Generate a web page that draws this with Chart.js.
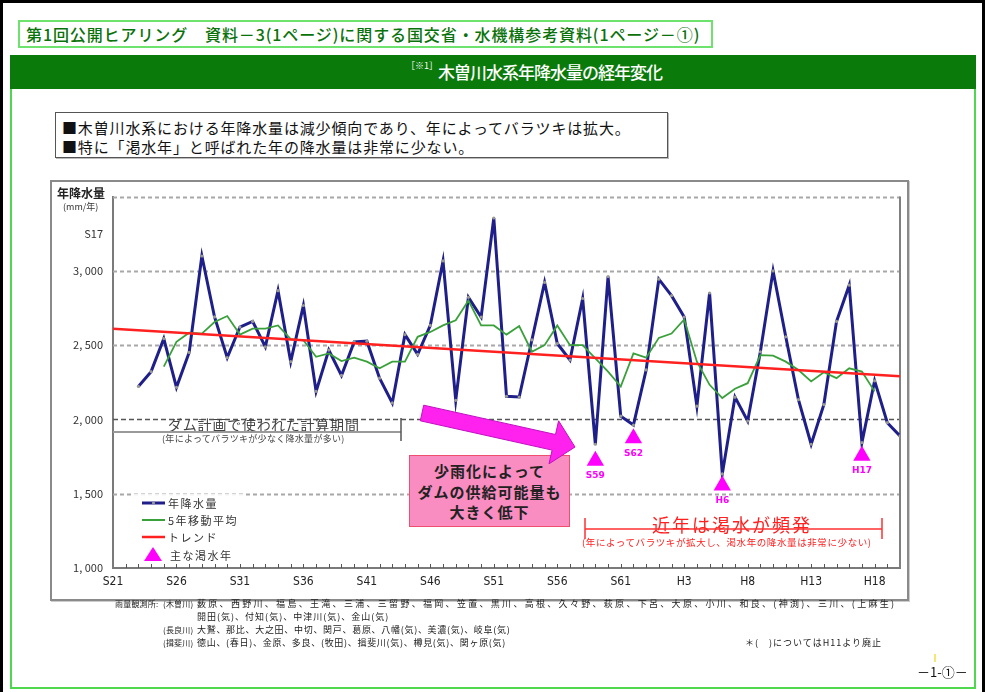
<!DOCTYPE html>
<html><head><meta charset="utf-8">
<script src="https://cdn.jsdelivr.net/npm/chart.js@4.4.1/dist/chart.umd.min.js"></script>
<style>
body{margin:0;background:#fff;}
#page{position:relative;width:985px;height:692px;overflow:hidden;background:#fff;font-family:"Noto Sans CJK JP","Noto Sans",sans-serif;}
.abs{position:absolute;white-space:nowrap;}
.note{font-size:9px;line-height:12px;color:#222;letter-spacing:2px;}
.lbl{font-size:8px;line-height:12px;color:#222;letter-spacing:0.2px;}
.leg{font-size:11px;line-height:14px;color:#333;letter-spacing:1.5px;}
</style></head><body><div id="page">

<div class="abs" style="left:0;top:0;width:985px;height:692px;border-top:3px solid #000;border-left:3px solid #000;border-right:3px solid #000;box-sizing:border-box"></div>
<div class="abs" style="left:18px;top:20px;width:695px;height:28px;border:2px solid #6de36d;box-sizing:border-box;color:#0a720a;font-size:16px;line-height:24px;padding-left:6px;letter-spacing:0.9px;font-weight:500">第1回公開ヒアリング　資料－3(1ページ)に関する国交省・水機構参考資料(1ページ－①)</div>
<div class="abs" style="left:10px;top:55px;width:966px;height:634px;border:2px solid #4fd84f;box-sizing:border-box"></div>
<div class="abs" style="left:10px;top:55px;width:966px;height:34px;background:#0a7a0a;"></div>
<div class="abs" style="left:406px;top:57px;color:#fff;"><span style="font-size:9px;vertical-align:top;position:relative;top:2px">［※1］</span><span style="font-size:17px;line-height:30px;letter-spacing:-1px;font-weight:500">木曽川水系年降水量の経年変化</span></div>

<div class="abs" style="left:55px;top:112px;width:613px;height:46px;border:1.5px solid #555;box-sizing:border-box;box-shadow:1px 1px 0 #bbb"></div>
<div class="abs" style="left:62px;top:118px;font-size:15px;line-height:19px;color:#111;letter-spacing:0.85px">■木曽川水系における年降水量は減少傾向であり、年によってバラツキは拡大。<br>■特に「渇水年」と呼ばれた年の降水量は非常に少ない。</div>

<div class="abs" style="left:50px;top:180px;width:859px;height:421px;border:2px solid #8a8a8a;box-sizing:border-box;box-shadow:1px 1px 0 #ccc"></div>
<canvas id="c" width="860" height="420" style="position:absolute;left:50px;top:180px"></canvas>

<div class="abs" style="left:57px;top:186px;font-size:12px;line-height:14px;font-weight:bold;color:#222">年降水量</div>
<div class="abs" style="left:63px;top:201px;font-size:9px;line-height:12px;color:#333">(mm/年)</div>

<div class="abs" style="left:133px;top:494px;width:112px;height:70px;background:rgba(255,255,255,0.85)"></div>
<div class="abs leg" style="left:168px;top:496px">年降水量</div>
<div class="abs leg" style="left:168px;top:513px">5年移動平均</div>
<div class="abs leg" style="left:168px;top:530px">トレンド</div>
<div class="abs leg" style="left:170px;top:548px">主な渇水年</div>

<div class="abs" style="left:168px;top:415px;font-size:14px;line-height:18px;color:#444;letter-spacing:0.8px">ダム計画で使われた計算期間</div>
<div class="abs" style="left:162px;top:433px;font-size:9px;line-height:11px;color:#444;letter-spacing:0.3px">(年によってバラツキが少なく降水量が多い)</div>

<div class="abs" style="left:409px;top:455px;width:161px;height:72px;background:#f98cc0;border:1.5px solid #ee4f6f;box-sizing:border-box"></div>
<div class="abs" style="left:409px;top:461px;width:161px;text-align:center;font-size:15px;line-height:20.5px;font-weight:bold;color:#222;letter-spacing:1px">少雨化によって<br>ダムの供給可能量も<br>大きく低下</div>

<div class="abs" style="left:652px;top:513px;font-size:18px;line-height:22px;color:#ff2020;letter-spacing:2px">近年は渇水が頻発</div>
<div class="abs" style="left:582px;top:536px;font-size:9.5px;line-height:12px;color:#ff2020;letter-spacing:0.6px">(年によってバラツキが拡大し、渇水年の降水量は非常に少ない)</div>

<svg class="abs" width="985" height="692" style="left:0;top:0;pointer-events:none">
  <line x1="113" y1="432" x2="401" y2="432" stroke="#9a9a9a" stroke-width="2"/>
  <line x1="401" y1="418" x2="401" y2="441" stroke="#555" stroke-width="1.5"/>
  <polygon points="423.7,405.2 555.5,434.5 558.6,420.8 575,447 549,463.8 552.1,450.1 420.3,420.8" fill="#ff22ee" stroke="#c010c0" stroke-width="1"/>
  <line x1="585" y1="529" x2="882" y2="529" stroke="#ff3030" stroke-width="1.5"/>
  <line x1="585" y1="518" x2="585" y2="539" stroke="#ff3030" stroke-width="1.5"/>
  <line x1="882" y1="518" x2="882" y2="539" stroke="#ff3030" stroke-width="1.5"/>
  <line x1="142" y1="503" x2="165" y2="503" stroke="#1f1f8a" stroke-width="3"/>
  <circle cx="153.5" cy="503" r="1.6" fill="#999"/>
  <line x1="142" y1="520" x2="165" y2="520" stroke="#3aa03a" stroke-width="2"/>
  <line x1="142" y1="537" x2="165" y2="537" stroke="#ff2020" stroke-width="2.5"/>
  <polygon points="153,547 162,561 144,561" fill="#ff00ff"/>
  <line x1="935" y1="654" x2="935" y2="662" stroke="#f0e040" stroke-width="1.5"/>
</svg>

<div class="abs lbl" style="left:115px;top:598px">雨量観測所:</div>
<div class="abs lbl" style="left:163px;top:598px">(木曽川)</div>
<div class="abs note" style="left:197px;top:598px;letter-spacing:2.3px">薮原、西野川、福島、王滝、三浦、三留野、福岡、笠置、黒川、高根、久々野、萩原、下呂、大原、小川、和良、(神渕)、三川、(上麻生)</div>
<div class="abs note" style="left:197px;top:611px;letter-spacing:1px">開田(気)、付知(気)、中津川(気)、金山(気)</div>
<div class="abs lbl" style="left:163px;top:624px">(長良川)</div>
<div class="abs note" style="left:197px;top:624px;letter-spacing:0.7px">大鷲、那比、大之田、中切、関戸、葛原、八幡(気)、美濃(気)、岐阜(気)</div>
<div class="abs lbl" style="left:163px;top:637px">(揖斐川)</div>
<div class="abs note" style="left:197px;top:637px;letter-spacing:0.7px">徳山、(春日)、金原、多良、(牧田)、揖斐川(気)、樽見(気)、関ヶ原(気)</div>
<div class="abs note" style="left:745px;top:637px;letter-spacing:1px">＊(　)についてはH11より廃止</div>
<div class="abs" style="left:917px;top:664px;font-size:13px;line-height:16px;color:#111">－1-①－</div>
</div>

<script>
const years = [1948,1949,1950,1951,1952,1953,1954,1955,1956,1957,1958,1959,1960,1961,1962,1963,1964,1965,1966,1967,1968,1969,1970,1971,1972,1973,1974,1975,1976,1977,1978,1979,1980,1981,1982,1983,1984,1985,1986,1987,1988,1989,1990,1991,1992,1993,1994,1995,1996,1997,1998,1999,2000,2001,2002,2003,2004,2005,2006,2007,2008];
const rainfall = [2222,2322,2544,2216,2451,3100,2690,2416,2622,2660,2489,2867,2389,2767,2189,2467,2296,2522,2527,2278,2111,2571,2438,2633,3067,2129,2822,2689,3356,2156,2151,2535,2922,2511,2400,2814,1833,2962,2022,1962,2333,2944,2833,2689,2089,2851,1633,2150,1989,2455,3000,2556,2133,1833,2100,2660,2904,1844,2260,1978,1889];
const movingAvg = [null,null,2356,2522,2584,2578,2656,2696,2571,2611,2611,2633,2540,2533,2422,2444,2393,2416,2389,2344,2389,2389,2556,2589,2633,2667,2800,2633,2633,2571,2629,2456,2500,2633,2500,2500,2411,2322,2222,2444,2416,2549,2578,2673,2389,2233,2144,2207,2244,2433,2429,2389,2333,2256,2318,2278,2344,2322,2189,null,null];
const trendYears = [1946,2008];
const trendValues = [2611,2290];
const droughtYears = [1984,1987,1994,2005];
const droughtMarkers = [1722,1873,1556,1756];
const droughtLabels = ['S59','S62','H6','H17'];
const xTickYears = [1946,1951,1956,1961,1966,1971,1976,1981,1986,1991,1996,2001,2006];
const xTickLabels = ['S21','S26','S31','S36','S41','S46','S51','S56','S61','H3','H8','H13','H18'];
const yTickValues = [1000,1500,2000,2500,3000,3250];
const yTickLabels = ['1, 000','1, 500','2, 000','2, 500','3, 000','S17'];
const yGridValues = [1500,2000,2500,3000,3500];

const decor = {
  id:'decor',
  beforeDatasetsDraw(c){
    const {ctx, chartArea:a, scales:{x,y}} = c;
    ctx.save();
    yGridValues.forEach(v=>{
      const py = Math.round(y.getPixelForValue(v))+0.5;
      ctx.beginPath();
      ctx.setLineDash(v===2000?[5,3]:[4,3]);
      ctx.strokeStyle = v===2000?'#555':'#a8a8a8';
      ctx.lineWidth = v===2000?1.5:2;
      ctx.moveTo(a.left,py); ctx.lineTo(a.right,py); ctx.stroke();
    });
    ctx.setLineDash([]);
    ctx.strokeStyle='#808080'; ctx.lineWidth=2;
    ctx.beginPath(); ctx.moveTo(a.right,a.top); ctx.lineTo(a.right,a.bottom); ctx.stroke();
    ctx.strokeStyle='#555'; ctx.lineWidth=1;
    for(let v=x.min+1; v<x.max; v++){
      const px = Math.round(x.getPixelForValue(v))+0.5;
      ctx.beginPath(); ctx.moveTo(px,a.bottom); ctx.lineTo(px,a.bottom-4); ctx.stroke();
    }
    ctx.restore();
  },
  afterDatasetsDraw(c){
    const {ctx} = c;
    const meta = c.getDatasetMeta(3);
    ctx.save();
    ctx.fillStyle='#ff00ff';
    ctx.font='bold 9px "DejaVu Sans"';
    ctx.textAlign='center'; ctx.textBaseline='middle';
    meta.data.forEach((pt,i)=>{ ctx.fillText(droughtLabels[i], pt.x, pt.y+15); });
    ctx.restore();
  }
};

new Chart(document.getElementById('c'), {
  type:'line',
  data:{datasets:[
    {label:'年降水量', data:years.map((v,i)=>({x:v,y:rainfall[i]})), borderColor:'#1f1f8a', borderWidth:3, pointRadius:1.6, pointBackgroundColor:'#999', pointBorderWidth:0, tension:0, order:3},
    {label:'5年移動平均', data:years.map((v,i)=>({x:v,y:movingAvg[i]})), borderColor:'#3aa03a', borderWidth:1.8, pointRadius:0, tension:0, order:2},
    {label:'トレンド', data:trendYears.map((v,i)=>({x:v,y:trendValues[i]})), borderColor:'#ff2020', borderWidth:2.5, pointRadius:0, order:1},
    {label:'主な渇水年', type:'scatter', data:droughtYears.map((v,i)=>({x:v,y:droughtMarkers[i]})), pointStyle:'triangle', pointRadius:10, backgroundColor:'#ff00ff', borderColor:'#ff00ff', borderWidth:0, showLine:false, order:0}
  ]},
  options:{
    responsive:false, animation:false,
    layout:{padding:{left:0,right:10,top:11,bottom:0}},
    plugins:{legend:{display:false}, tooltip:{enabled:false}},
    scales:{
      x:{type:'linear', min:1946, max:2008,
        afterBuildTicks:s=>{ s.ticks = xTickYears.map(v=>({value:v})); },
        afterFit:s=>{ s.height = 32; },
        ticks:{autoSkip:false, maxRotation:0, padding:7, color:'#222', font:{family:'"Liberation Sans Narrow","DejaVu Sans Condensed",sans-serif', size:12},
          callback:(v)=>{ const i = xTickYears.indexOf(v); return i>=0 ? xTickLabels[i] : ''; }},
        grid:{display:false, drawTicks:false},
        border:{display:true, color:'#7a7a7a', width:2}
      },
      y:{min:1000, max:3500,
        afterBuildTicks:s=>{ s.ticks = yTickValues.map(v=>({value:v})); },
        afterFit:s=>{ s.width = 63; },
        ticks:{padding:10, color:'#333', font:{family:'"Noto Sans CJK JP"', size:11},
          callback:(v)=>{ const i = yTickValues.indexOf(v); return i>=0 ? yTickLabels[i] : ''; }},
        grid:{display:false, drawTicks:false},
        border:{display:true, color:'#7a7a7a', width:2}
      }
    }
  },
  plugins:[decor]
});
</script>
</body></html>
